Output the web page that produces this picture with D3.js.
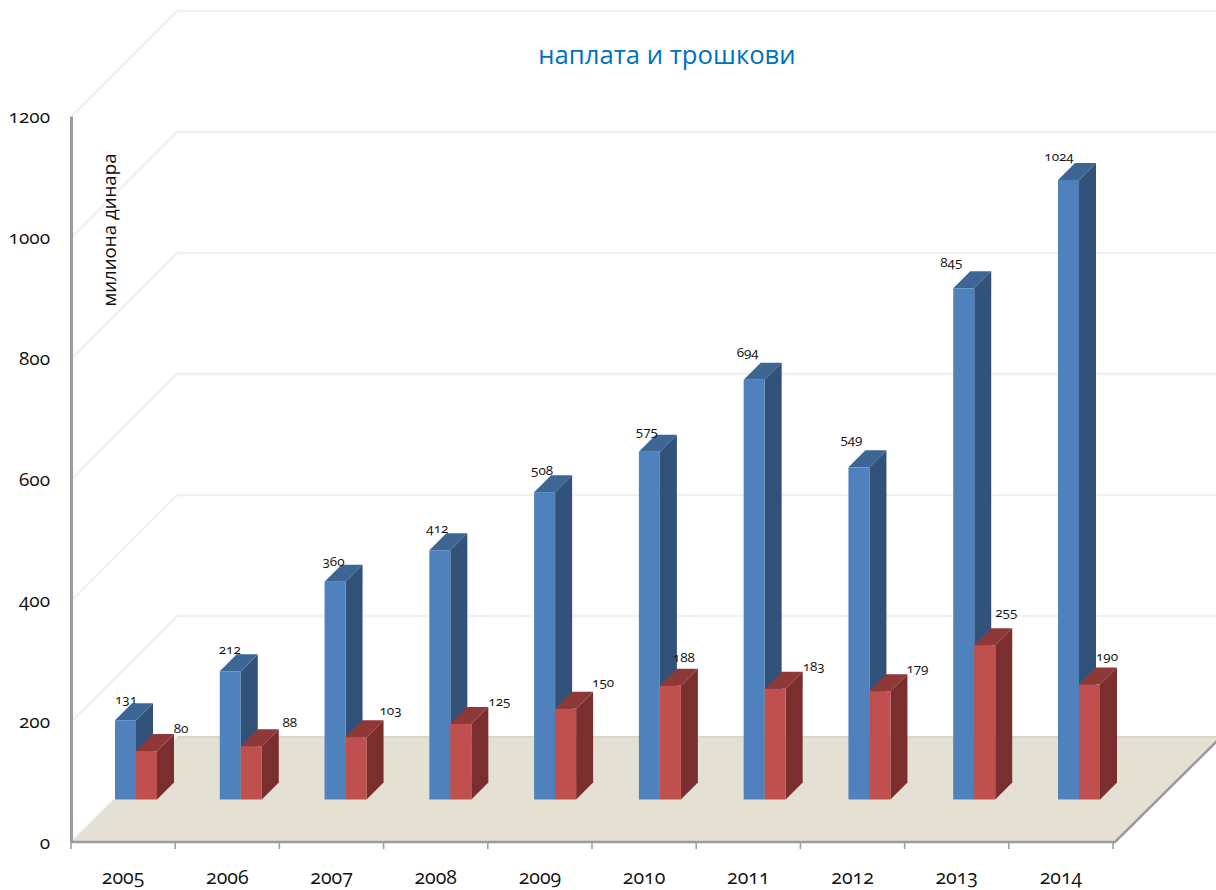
<!DOCTYPE html>
<html>
<head>
<meta charset="utf-8">
<script src="https://cdn.jsdelivr.net/npm/d3@7"></script>
<style>
	html, body { margin: 0; padding: 0; background: #fff; }
	svg { display: block; }
	text { font-family: "Open Sans", Lato, sans-serif; font-feature-settings: "onum" 1, "lnum" 0; fill: #111; }
</style>
</head>
<body>
<div id="chart"></div>
<script>
'use strict';

var years = ['2005', '2006', '2007', '2008', '2009', '2010', '2011', '2012', '2013', '2014'];
var naplata = [131, 212, 360, 412, 508, 575, 694, 549, 845, 1024];
var troskovi = [80, 88, 103, 125, 150, 188, 183, 179, 255, 190];
var yTicks = [0, 200, 400, 600, 800, 1000, 1200];

// hand placed label shifts, relative to the front top left corner of each bar
var naplataLabelShift = [[11, -16], [10, -17], [9, -16], [8, -17], [8, -17], [8, -16], [4, -23], [3, -23], [-2, -21], [1, -19]];
var troskoviLabelShift = [[45, -18], [49, -19], [45, -22], [49, -18], [48, -22], [24, -24], [49, -18], [48, -18], [32, -28], [28, -24]];

var width = 1216;
var height = 890;
var wall = {dx: 106, dy: -105};   // how far the back wall sits behind the front plane
var base = {dx: 44, dy: -42.5};   // where the bars stand on the floor
var depth = {dx: 17, dy: -17};    // depth of one bar
var barWidth = 21;

var svg = d3.select('#chart').append('svg')
	.attr('width', width)
	.attr('height', height);

var y = d3.scaleLinear().domain([0, 1200]).range([842, 116]);
var xBand = d3.scaleBand().domain(years).range([71, 1113]);
var xBar = d3.scalePoint().domain(years).range([71 + base.dx, 1014 + base.dx]);

function poly(points) {
	return points.map(function(p) { return p.join(','); }).join(' ');
}

// floor
svg.append('polygon')
	.attr('points', poly([[71, y(0)], [1117, y(0)], [1117 + wall.dx, y(0) + wall.dy], [71 + wall.dx, y(0) + wall.dy]]))
	.attr('fill', '#e5e0d4');
svg.append('line')
	.attr('x1', 71 + wall.dx).attr('x2', width)
	.attr('y1', y(0) + wall.dy).attr('y2', y(0) + wall.dy)
	.attr('stroke', '#d8d5cd').attr('stroke-width', 2);
svg.append('line')
	.attr('x1', 71).attr('x2', 71 + wall.dx)
	.attr('y1', y(0)).attr('y2', y(0) + wall.dy)
	.attr('stroke', '#eceae4').attr('stroke-width', 1.5);
svg.append('polyline')
	.attr('points', poly([[71, y(0)], [1115, y(0)], [1115 + wall.dx, y(0) + wall.dy]]))
	.attr('fill', 'none')
	.attr('stroke', '#9b9b9b').attr('stroke-width', 2.5);

// wall gridlines
svg.append('g').selectAll('polyline')
	.data(yTicks.filter(function(d) { return d > 0; }))
	.enter()
	.append('polyline')
	.attr('points', function(d) {
		return poly([[72, y(d)], [71 + wall.dx, y(d) + wall.dy], [width, y(d) + wall.dy]]);
	})
	.attr('fill', 'none')
	.attr('stroke', '#f1f1f1')
	.attr('stroke-width', 2.5);

// axes
var yAxis = d3.axisLeft(y).tickValues(yTicks).tickFormat(d3.format('d')).tickSize(0).tickPadding(21);
var gy = svg.append('g').attr('transform', 'translate(71,0)').call(yAxis);
gy.select('.domain').attr('stroke', '#9b9b9b').attr('stroke-width', 3);
gy.selectAll('text').attr('font-size', 19).attr('dy', '0.32em');

var xAxis = d3.axisBottom(xBand).tickSize(0).tickPadding(28);
var gx = svg.append('g').attr('transform', 'translate(0,842)').call(xAxis);
gx.select('.domain').remove();
gx.selectAll('text').attr('font-size', 19.5);

svg.append('g').selectAll('line')
	.data(years.concat(['end']))
	.enter()
	.append('line')
	.attr('x1', function(d, i) { return 71 + i * xBand.step(); })
	.attr('x2', function(d, i) { return 71 + i * xBand.step(); })
	.attr('y1', 842).attr('y2', 849)
	.attr('stroke', '#9b9b9b').attr('stroke-width', 1.5);

// bars, blue first so that the red one covers its side
var barBottom = y(0) + base.dy;

function drawBar(g, x0, value, colors) {
	var top = barBottom - (y(0) - y(value));
	g.append('polygon')
		.attr('points', poly([[x0 + barWidth, top], [x0 + barWidth + depth.dx, top + depth.dy], [x0 + barWidth + depth.dx, barBottom + depth.dy], [x0 + barWidth, barBottom]]))
		.attr('fill', colors.side);
	g.append('polygon')
		.attr('points', poly([[x0, top], [x0 + depth.dx, top + depth.dy], [x0 + barWidth + depth.dx, top + depth.dy], [x0 + barWidth, top]]))
		.attr('fill', colors.top);
	g.append('rect')
		.attr('x', x0).attr('y', top)
		.attr('width', barWidth).attr('height', barBottom - top)
		.attr('fill', colors.front);
}

var blue = {front: '#4f81bd', side: '#325279', top: '#3e6695'};
var red = {front: '#c0504d', side: '#7a2f2e', top: '#8e3838'};

var bars = svg.append('g');
years.forEach(function(year, i) {
	var g = bars.append('g').attr('class', 'bars');
	drawBar(g, xBar(year), naplata[i], blue);
	drawBar(g, xBar(year) + barWidth, troskovi[i], red);
});

// value labels
function drawLabels(values, shift, offsetX) {
	svg.append('g').selectAll('text')
		.data(values)
		.enter()
		.append('text')
		.attr('x', function(d, i) { return xBar(years[i]) + offsetX + shift[i][0]; })
		.attr('y', function(d, i) { return barBottom - (y(0) - y(d)) + shift[i][1]; })
		.attr('text-anchor', 'middle')
		.attr('font-size', 13.5)
		.text(function(d) { return d; });
}
drawLabels(naplata, naplataLabelShift, 0);
drawLabels(troskovi, troskoviLabelShift, barWidth);

// titles
svg.append('text')
	.attr('x', 667).attr('y', 64)
	.attr('text-anchor', 'middle')
	.attr('font-size', 25.7)
	.style('fill', '#0070c0')
	.text('наплата и трошкови');

svg.append('text')
	.attr('transform', 'translate(116,230) rotate(-90)')
	.attr('text-anchor', 'middle')
	.attr('font-size', 18.7)
	.text('милиона динара');
</script>
</body>
</html>
